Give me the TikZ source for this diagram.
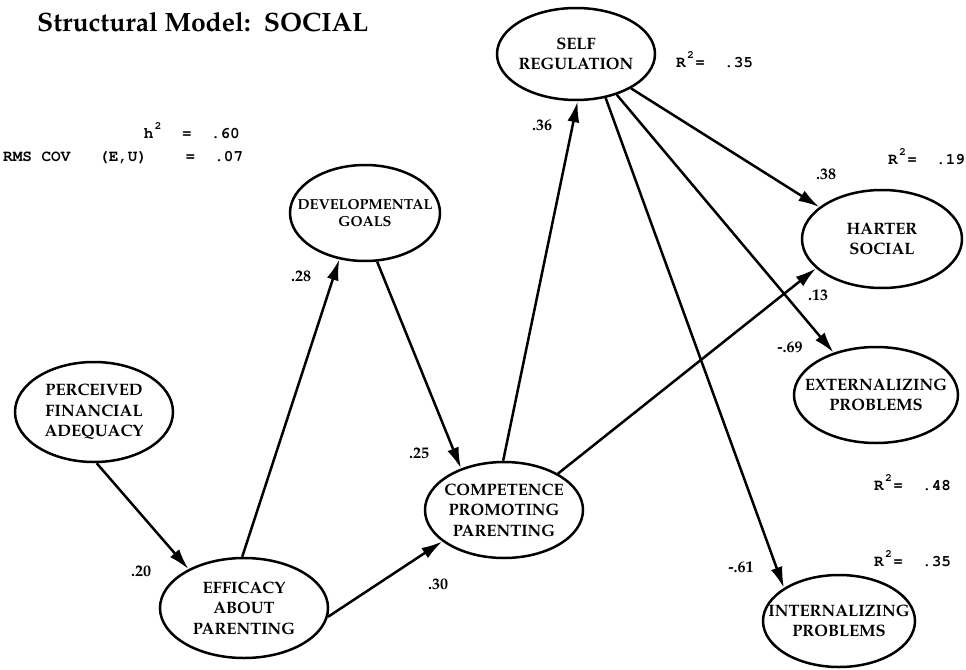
\documentclass[tikz,border=0pt]{standalone}
\usepackage[T1]{fontenc}
\renewcommand{\rmdefault}{ppl}
\usetikzlibrary{arrows.meta,shapes.geometric}
\newcommand{\cl}[1]{\makebox[0pt]{#1}}
\newcommand{\crfont}{\fontfamily{pcr}\fontseries{b}\selectfont}
\newcommand{\sqtwo}{\makebox[0.6em]{\raisebox{9pt}{\fontsize{11}{11}\selectfont 2}}}
\begin{document}
\begin{tikzpicture}[x=1pt,y=-1pt,
  lat/.style={draw, ellipse, line width=2.5pt, inner sep=0pt, align=center,
    font=\fontsize{16.5}{20.5}\selectfont\bfseries},
  arr/.style={line width=2.5pt, -{Latex[length=21pt,width=12pt]}},
  coef/.style={inner sep=0pt, font=\fontsize{16}{16}\selectfont\bfseries},
  mono/.style={inner sep=0pt, font=\crfont\fontsize{16}{16}\selectfont}
]
\useasboundingbox (0,0) rectangle (966,669);

\node[anchor=base west, inner sep=0pt, font=\fontsize{26.5}{26.5}\selectfont\bfseries] (title) at (37,32) {Structural Model:\ \ SOCIAL};

\node[mono, anchor=base east] (h2) at (240,138) {h\sqtwo~~=~~.60};
\node[mono, anchor=base west] (rms) at (3,161) {RMS~COV~~~(E,U)~~~~=~~.07};

\node[lat, minimum width=158pt, minimum height=92pt] (self) at (576,54) {\cl{SELF}\\\cl{REGULATION}};
\node[lat, minimum width=150pt, minimum height=96pt, font=\fontsize{14.5}{17}\selectfont\bfseries] (dev) at (365,213) {\cl{DEVELOPMENTAL}\\\cl{GOALS}};
\node[lat, minimum width=160pt, minimum height=98pt] (harter) at (882,239) {\cl{HARTER}\\\cl{SOCIAL}};
\node[lat, minimum width=164pt, minimum height=96pt] (ext) at (876,395) {\cl{EXTERNALIZING}\\\cl{PROBLEMS}};
\node[lat, minimum width=152pt, minimum height=92pt] (int) at (839,621) {\cl{INTERNALIZING}\\\cl{PROBLEMS}};
\node[lat, minimum width=158pt, minimum height=100pt] (pfa) at (94,412) {\cl{PERCEIVED}\\\cl{FINANCIAL}\\\cl{ADEQUACY}};
\node[lat, minimum width=168pt, minimum height=100pt] (eff) at (244,608) {\cl{EFFICACY}\\\cl{ABOUT}\\\cl{PARENTING}};
\node[lat, minimum width=158pt, minimum height=96pt] (cpp) at (504,510) {\cl{COMPETENCE}\\\cl{PROMOTING}\\\cl{PARENTING}};

\draw[arr] (pfa.-87) -- (eff.145);
\draw[arr] (eff.92) -- (dev.-119);
\draw[arr] (dev.-76) -- (cpp.136);
\draw[arr] (eff.-6) -- (cpp.207);
\draw[arr] (cpp.91) -- (self.-88);
\draw[arr] (cpp.34) -- (harter.204);
\draw[arr] (self.-32) -- (harter.153);
\draw[arr] (self.-45) -- (ext.135);
\draw[arr] (self.-56) -- (int.149);

\node[coef] (c20) at (141,571) {.20};
\node[coef] (c28) at (301,276) {.28};
\node[coef] (c25) at (419,453) {.25};
\node[coef] (c30) at (438,584) {.30};
\node[coef] (c36) at (542,125) {.36};
\node[coef] (c38) at (826,174) {.38};
\node[coef] (c13) at (818,295) {.13};
\node[coef] (c69) at (790,347) {-.69};
\node[coef] (c61) at (741,567) {-.61};

\node[mono, anchor=base west] (r2self) at (676,67) {R\sqtwo=~~.35};
\node[mono, anchor=base west] (r2harter) at (888,164) {R\sqtwo=~~.19};
\node[mono, anchor=base west] (r2ext) at (874,490) {R\sqtwo=~~.48};
\node[mono, anchor=base west] (r2int) at (874,566) {R\sqtwo=~~.35};
\end{tikzpicture}
\end{document}
